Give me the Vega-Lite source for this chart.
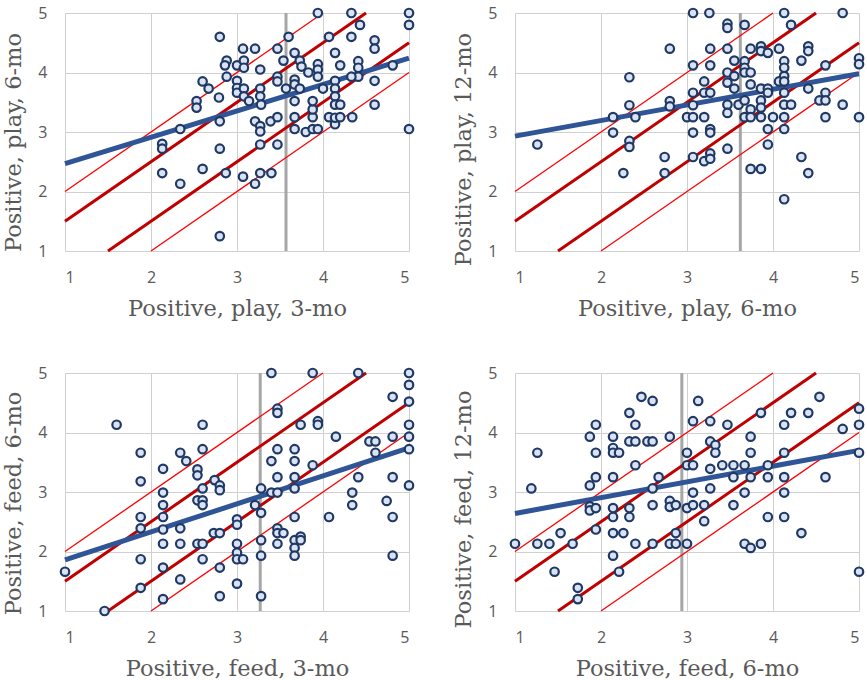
{
"$schema":"https://vega.github.io/schema/vega-lite/v6.json",
"padding":{"left":2,"top":4,"right":0,"bottom":0},
"background":"white",
"datasets":{
"pts":[
{"p":"tl","x":3.94,"y":5},{"p":"tl","x":4.33,"y":5},{"p":"tl","x":5,"y":5},{"p":"tl","x":5,"y":4.8},{"p":"tl","x":4.43,"y":4.8},{"p":"tl","x":2.8,"y":4.6},{"p":"tl","x":3.6,"y":4.6},{"p":"tl","x":4.07,"y":4.6},{"p":"tl","x":4.33,"y":4.6},{"p":"tl","x":4.6,"y":4.54},{"p":"tl","x":4.6,"y":4.4},{"p":"tl","x":3.07,"y":4.4},{"p":"tl","x":3.21,"y":4.4},{"p":"tl","x":3.47,"y":4.4},{"p":"tl","x":3.67,"y":4.33},{"p":"tl","x":4.14,"y":4.33},{"p":"tl","x":2.88,"y":4.2},{"p":"tl","x":2.86,"y":4.12},{"p":"tl","x":3.0,"y":4.12},{"p":"tl","x":3.08,"y":4.2},{"p":"tl","x":3.08,"y":4.08},{"p":"tl","x":3.27,"y":4.05},{"p":"tl","x":3.54,"y":4.2},{"p":"tl","x":3.73,"y":4.2},{"p":"tl","x":3.75,"y":4.1},{"p":"tl","x":3.83,"y":4.0},{"p":"tl","x":3.94,"y":4.14},{"p":"tl","x":3.94,"y":4.05},{"p":"tl","x":3.94,"y":3.93},{"p":"tl","x":4.2,"y":4.12},{"p":"tl","x":4.41,"y":4.19},{"p":"tl","x":4.41,"y":4.08},{"p":"tl","x":4.41,"y":3.93},{"p":"tl","x":4.33,"y":3.93},{"p":"tl","x":4.81,"y":4.12},{"p":"tl","x":2.88,"y":3.93},{"p":"tl","x":2.6,"y":3.85},{"p":"tl","x":2.67,"y":3.73},{"p":"tl","x":3.0,"y":3.86},{"p":"tl","x":3.0,"y":3.74},{"p":"tl","x":3.0,"y":3.66},{"p":"tl","x":3.08,"y":3.73},{"p":"tl","x":3.08,"y":3.6},{"p":"tl","x":3.14,"y":3.52},{"p":"tl","x":3.27,"y":3.73},{"p":"tl","x":3.27,"y":3.6},{"p":"tl","x":3.28,"y":3.46},{"p":"tl","x":3.47,"y":3.93},{"p":"tl","x":3.47,"y":3.85},{"p":"tl","x":3.57,"y":3.73},{"p":"tl","x":3.67,"y":3.88},{"p":"tl","x":3.67,"y":3.8},{"p":"tl","x":3.73,"y":3.73},{"p":"tl","x":3.67,"y":3.52},{"p":"tl","x":4.0,"y":3.73},{"p":"tl","x":4.14,"y":3.86},{"p":"tl","x":4.14,"y":3.73},{"p":"tl","x":4.14,"y":3.6},{"p":"tl","x":4.14,"y":3.46},{"p":"tl","x":4.2,"y":3.46},{"p":"tl","x":4.6,"y":3.86},{"p":"tl","x":4.6,"y":3.46},{"p":"tl","x":2.79,"y":3.58},{"p":"tl","x":2.53,"y":3.52},{"p":"tl","x":2.53,"y":3.41},{"p":"tl","x":2.8,"y":3.18},{"p":"tl","x":3.21,"y":3.18},{"p":"tl","x":3.27,"y":3.1},{"p":"tl","x":3.27,"y":3.01},{"p":"tl","x":3.39,"y":3.18},{"p":"tl","x":3.47,"y":3.25},{"p":"tl","x":3.67,"y":3.25},{"p":"tl","x":3.67,"y":3.05},{"p":"tl","x":3.8,"y":3.0},{"p":"tl","x":3.88,"y":3.05},{"p":"tl","x":3.94,"y":3.05},{"p":"tl","x":3.88,"y":3.25},{"p":"tl","x":3.88,"y":3.38},{"p":"tl","x":3.88,"y":3.52},{"p":"tl","x":4.07,"y":3.25},{"p":"tl","x":4.14,"y":3.13},{"p":"tl","x":4.14,"y":3.24},{"p":"tl","x":4.2,"y":3.25},{"p":"tl","x":4.34,"y":3.25},{"p":"tl","x":5,"y":3.05},{"p":"tl","x":2.34,"y":3.05},{"p":"tl","x":2.13,"y":2.8},{"p":"tl","x":2.13,"y":2.72},{"p":"tl","x":2.8,"y":2.72},{"p":"tl","x":3.27,"y":2.79},{"p":"tl","x":3.47,"y":2.79},{"p":"tl","x":2.13,"y":2.31},{"p":"tl","x":2.34,"y":2.13},{"p":"tl","x":2.6,"y":2.38},{"p":"tl","x":2.87,"y":2.31},{"p":"tl","x":3.07,"y":2.25},{"p":"tl","x":3.21,"y":2.13},{"p":"tl","x":3.27,"y":2.31},{"p":"tl","x":3.4,"y":2.31},{"p":"tl","x":2.8,"y":1.25},
{"p":"tr","x":1.26,"y":2.79},{"p":"tr","x":2.14,"y":3.25},{"p":"tr","x":2.14,"y":2.99},{"p":"tr","x":2.33,"y":3.92},{"p":"tr","x":2.33,"y":3.45},{"p":"tr","x":2.33,"y":2.85},{"p":"tr","x":2.33,"y":2.75},{"p":"tr","x":2.26,"y":2.31},{"p":"tr","x":2.4,"y":3.25},{"p":"tr","x":2.8,"y":4.4},{"p":"tr","x":2.8,"y":3.52},{"p":"tr","x":2.8,"y":3.43},{"p":"tr","x":2.74,"y":2.58},{"p":"tr","x":2.74,"y":2.31},{"p":"tr","x":3.0,"y":3.25},{"p":"tr","x":3.07,"y":5},{"p":"tr","x":3.07,"y":4.12},{"p":"tr","x":3.07,"y":3.66},{"p":"tr","x":3.07,"y":3.45},{"p":"tr","x":3.07,"y":3.25},{"p":"tr","x":3.07,"y":2.99},{"p":"tr","x":3.07,"y":2.58},{"p":"tr","x":3.26,"y":5},{"p":"tr","x":3.2,"y":3.85},{"p":"tr","x":3.2,"y":3.66},{"p":"tr","x":3.2,"y":3.25},{"p":"tr","x":3.2,"y":2.51},{"p":"tr","x":3.27,"y":4.4},{"p":"tr","x":3.27,"y":4.12},{"p":"tr","x":3.27,"y":3.66},{"p":"tr","x":3.27,"y":3.05},{"p":"tr","x":3.27,"y":2.99},{"p":"tr","x":3.27,"y":2.64},{"p":"tr","x":3.27,"y":2.55},{"p":"tr","x":3.47,"y":4.82},{"p":"tr","x":3.47,"y":4.75},{"p":"tr","x":3.47,"y":4.4},{"p":"tr","x":3.47,"y":4.0},{"p":"tr","x":3.47,"y":3.83},{"p":"tr","x":3.47,"y":3.46},{"p":"tr","x":3.47,"y":3.32},{"p":"tr","x":3.47,"y":2.72},{"p":"tr","x":3.55,"y":4.2},{"p":"tr","x":3.55,"y":3.94},{"p":"tr","x":3.55,"y":3.73},{"p":"tr","x":3.6,"y":3.46},{"p":"tr","x":3.67,"y":4.8},{"p":"tr","x":3.67,"y":4.19},{"p":"tr","x":3.67,"y":4.08},{"p":"tr","x":3.67,"y":4.0},{"p":"tr","x":3.67,"y":3.53},{"p":"tr","x":3.67,"y":3.25},{"p":"tr","x":3.74,"y":4.4},{"p":"tr","x":3.74,"y":4.0},{"p":"tr","x":3.74,"y":3.8},{"p":"tr","x":3.74,"y":3.38},{"p":"tr","x":3.74,"y":3.25},{"p":"tr","x":3.74,"y":2.38},{"p":"tr","x":3.86,"y":4.44},{"p":"tr","x":3.86,"y":4.36},{"p":"tr","x":3.86,"y":3.73},{"p":"tr","x":3.86,"y":3.53},{"p":"tr","x":3.86,"y":3.41},{"p":"tr","x":3.86,"y":3.25},{"p":"tr","x":3.86,"y":2.38},{"p":"tr","x":3.94,"y":4.33},{"p":"tr","x":3.94,"y":3.73},{"p":"tr","x":3.94,"y":3.66},{"p":"tr","x":3.94,"y":3.05},{"p":"tr","x":3.94,"y":2.79},{"p":"tr","x":4.0,"y":3.25},{"p":"tr","x":4.07,"y":4.4},{"p":"tr","x":4.07,"y":3.85},{"p":"tr","x":4.13,"y":5},{"p":"tr","x":4.13,"y":4.19},{"p":"tr","x":4.13,"y":4.08},{"p":"tr","x":4.13,"y":3.94},{"p":"tr","x":4.13,"y":3.85},{"p":"tr","x":4.13,"y":3.66},{"p":"tr","x":4.13,"y":3.46},{"p":"tr","x":4.13,"y":3.25},{"p":"tr","x":4.13,"y":3.05},{"p":"tr","x":4.13,"y":1.87},{"p":"tr","x":4.21,"y":4.8},{"p":"tr","x":4.21,"y":3.46},{"p":"tr","x":4.33,"y":4.2},{"p":"tr","x":4.33,"y":2.58},{"p":"tr","x":4.41,"y":4.44},{"p":"tr","x":4.41,"y":4.36},{"p":"tr","x":4.41,"y":3.73},{"p":"tr","x":4.41,"y":2.31},{"p":"tr","x":4.54,"y":3.53},{"p":"tr","x":4.61,"y":4.12},{"p":"tr","x":4.61,"y":3.66},{"p":"tr","x":4.61,"y":3.53},{"p":"tr","x":4.61,"y":3.25},{"p":"tr","x":4.81,"y":5},{"p":"tr","x":4.81,"y":3.46},{"p":"tr","x":5,"y":4.24},{"p":"tr","x":5,"y":4.14},{"p":"tr","x":5,"y":3.25},
{"p":"bl","x":1,"y":1.66},{"p":"bl","x":1.46,"y":1.0},{"p":"bl","x":1.6,"y":4.13},{"p":"bl","x":1.88,"y":3.66},{"p":"bl","x":1.88,"y":3.18},{"p":"bl","x":1.88,"y":2.58},{"p":"bl","x":1.88,"y":2.39},{"p":"bl","x":1.88,"y":1.87},{"p":"bl","x":1.88,"y":1.39},{"p":"bl","x":2.14,"y":3.39},{"p":"bl","x":2.14,"y":2.99},{"p":"bl","x":2.14,"y":2.78},{"p":"bl","x":2.14,"y":2.58},{"p":"bl","x":2.14,"y":2.37},{"p":"bl","x":2.14,"y":2.13},{"p":"bl","x":2.14,"y":1.73},{"p":"bl","x":2.14,"y":1.2},{"p":"bl","x":2.34,"y":3.66},{"p":"bl","x":2.41,"y":3.52},{"p":"bl","x":2.34,"y":2.39},{"p":"bl","x":2.34,"y":2.13},{"p":"bl","x":2.34,"y":1.53},{"p":"bl","x":2.54,"y":3.38},{"p":"bl","x":2.54,"y":3.28},{"p":"bl","x":2.54,"y":2.86},{"p":"bl","x":2.54,"y":2.13},{"p":"bl","x":2.6,"y":4.13},{"p":"bl","x":2.6,"y":3.72},{"p":"bl","x":2.6,"y":3.06},{"p":"bl","x":2.6,"y":2.86},{"p":"bl","x":2.6,"y":2.78},{"p":"bl","x":2.6,"y":2.13},{"p":"bl","x":2.6,"y":1.87},{"p":"bl","x":2.74,"y":3.2},{"p":"bl","x":2.8,"y":3.11},{"p":"bl","x":2.8,"y":3.03},{"p":"bl","x":2.73,"y":2.31},{"p":"bl","x":2.8,"y":2.31},{"p":"bl","x":2.8,"y":1.73},{"p":"bl","x":2.8,"y":1.25},{"p":"bl","x":3.0,"y":2.54},{"p":"bl","x":3.0,"y":2.45},{"p":"bl","x":3.0,"y":2.13},{"p":"bl","x":3.0,"y":1.98},{"p":"bl","x":3.0,"y":1.87},{"p":"bl","x":3.07,"y":1.87},{"p":"bl","x":3.0,"y":1.46},{"p":"bl","x":3.21,"y":2.78},{"p":"bl","x":3.28,"y":3.06},{"p":"bl","x":3.28,"y":2.65},{"p":"bl","x":3.28,"y":2.19},{"p":"bl","x":3.28,"y":1.93},{"p":"bl","x":3.28,"y":1.25},{"p":"bl","x":3.4,"y":5},{"p":"bl","x":3.4,"y":3.52},{"p":"bl","x":3.4,"y":2.99},{"p":"bl","x":3.47,"y":4.4},{"p":"bl","x":3.47,"y":4.33},{"p":"bl","x":3.47,"y":3.72},{"p":"bl","x":3.47,"y":3.25},{"p":"bl","x":3.47,"y":2.99},{"p":"bl","x":3.47,"y":2.39},{"p":"bl","x":3.47,"y":2.31},{"p":"bl","x":3.47,"y":2.13},{"p":"bl","x":3.54,"y":2.31},{"p":"bl","x":3.67,"y":3.72},{"p":"bl","x":3.67,"y":3.52},{"p":"bl","x":3.67,"y":3.25},{"p":"bl","x":3.67,"y":3.06},{"p":"bl","x":3.67,"y":2.58},{"p":"bl","x":3.67,"y":2.19},{"p":"bl","x":3.67,"y":2.06},{"p":"bl","x":3.67,"y":1.93},{"p":"bl","x":3.74,"y":4.13},{"p":"bl","x":3.74,"y":2.25},{"p":"bl","x":3.74,"y":2.19},{"p":"bl","x":3.88,"y":5},{"p":"bl","x":3.88,"y":3.45},{"p":"bl","x":3.94,"y":4.19},{"p":"bl","x":3.94,"y":4.13},{"p":"bl","x":4.07,"y":2.58},{"p":"bl","x":4.15,"y":3.93},{"p":"bl","x":4.34,"y":2.99},{"p":"bl","x":4.34,"y":2.78},{"p":"bl","x":4.41,"y":5},{"p":"bl","x":4.41,"y":3.25},{"p":"bl","x":4.54,"y":3.85},{"p":"bl","x":4.61,"y":3.85},{"p":"bl","x":4.61,"y":3.66},{"p":"bl","x":4.74,"y":2.85},{"p":"bl","x":4.81,"y":4.6},{"p":"bl","x":4.81,"y":3.93},{"p":"bl","x":4.81,"y":3.25},{"p":"bl","x":4.81,"y":2.58},{"p":"bl","x":4.81,"y":1.93},{"p":"bl","x":5,"y":5},{"p":"bl","x":5,"y":4.8},{"p":"bl","x":5,"y":4.52},{"p":"bl","x":5,"y":4.13},{"p":"bl","x":5,"y":3.93},{"p":"bl","x":5,"y":3.72},{"p":"bl","x":5,"y":3.11},
{"p":"br","x":1,"y":2.13},{"p":"br","x":1.19,"y":3.06},{"p":"br","x":1.26,"y":3.66},{"p":"br","x":1.26,"y":2.13},{"p":"br","x":1.4,"y":2.13},{"p":"br","x":1.46,"y":1.66},{"p":"br","x":1.53,"y":2.31},{"p":"br","x":1.67,"y":2.13},{"p":"br","x":1.73,"y":1.39},{"p":"br","x":1.73,"y":1.2},{"p":"br","x":1.87,"y":3.93},{"p":"br","x":1.87,"y":3.11},{"p":"br","x":1.87,"y":2.76},{"p":"br","x":1.87,"y":2.69},{"p":"br","x":1.94,"y":4.13},{"p":"br","x":1.94,"y":3.66},{"p":"br","x":1.94,"y":3.25},{"p":"br","x":1.94,"y":2.73},{"p":"br","x":1.94,"y":2.37},{"p":"br","x":2.14,"y":3.93},{"p":"br","x":2.14,"y":3.74},{"p":"br","x":2.14,"y":3.66},{"p":"br","x":2.21,"y":3.66},{"p":"br","x":2.14,"y":3.25},{"p":"br","x":2.14,"y":2.73},{"p":"br","x":2.14,"y":2.58},{"p":"br","x":2.14,"y":2.31},{"p":"br","x":2.14,"y":1.93},{"p":"br","x":2.21,"y":1.66},{"p":"br","x":2.26,"y":2.31},{"p":"br","x":2.33,"y":4.33},{"p":"br","x":2.33,"y":3.85},{"p":"br","x":2.33,"y":2.73},{"p":"br","x":2.33,"y":2.58},{"p":"br","x":2.4,"y":4.13},{"p":"br","x":2.4,"y":3.85},{"p":"br","x":2.4,"y":3.45},{"p":"br","x":2.4,"y":2.13},{"p":"br","x":2.47,"y":4.6},{"p":"br","x":2.54,"y":3.85},{"p":"br","x":2.6,"y":4.53},{"p":"br","x":2.6,"y":3.85},{"p":"br","x":2.6,"y":3.06},{"p":"br","x":2.6,"y":2.78},{"p":"br","x":2.6,"y":2.13},{"p":"br","x":2.67,"y":3.25},{"p":"br","x":2.8,"y":3.93},{"p":"br","x":2.8,"y":2.85},{"p":"br","x":2.8,"y":2.75},{"p":"br","x":2.8,"y":2.13},{"p":"br","x":2.87,"y":2.78},{"p":"br","x":2.87,"y":2.31},{"p":"br","x":2.87,"y":2.13},{"p":"br","x":3.0,"y":3.66},{"p":"br","x":3.0,"y":3.45},{"p":"br","x":3.0,"y":2.73},{"p":"br","x":3.0,"y":2.13},{"p":"br","x":3.07,"y":4.19},{"p":"br","x":3.07,"y":3.45},{"p":"br","x":3.07,"y":2.99},{"p":"br","x":3.07,"y":2.78},{"p":"br","x":3.13,"y":4.53},{"p":"br","x":3.2,"y":2.78},{"p":"br","x":3.2,"y":2.51},{"p":"br","x":3.27,"y":4.19},{"p":"br","x":3.27,"y":3.85},{"p":"br","x":3.27,"y":3.39},{"p":"br","x":3.27,"y":3.06},{"p":"br","x":3.33,"y":3.79},{"p":"br","x":3.33,"y":3.66},{"p":"br","x":3.41,"y":3.45},{"p":"br","x":3.47,"y":4.13},{"p":"br","x":3.54,"y":3.45},{"p":"br","x":3.54,"y":3.25},{"p":"br","x":3.54,"y":2.78},{"p":"br","x":3.67,"y":3.45},{"p":"br","x":3.67,"y":2.99},{"p":"br","x":3.67,"y":2.13},{"p":"br","x":3.74,"y":3.93},{"p":"br","x":3.74,"y":3.66},{"p":"br","x":3.74,"y":3.25},{"p":"br","x":3.74,"y":2.06},{"p":"br","x":3.86,"y":4.33},{"p":"br","x":3.86,"y":2.13},{"p":"br","x":3.94,"y":3.45},{"p":"br","x":3.94,"y":3.25},{"p":"br","x":3.94,"y":2.58},{"p":"br","x":4.13,"y":4.13},{"p":"br","x":4.13,"y":3.66},{"p":"br","x":4.13,"y":3.25},{"p":"br","x":4.13,"y":2.99},{"p":"br","x":4.13,"y":2.58},{"p":"br","x":4.21,"y":4.33},{"p":"br","x":4.33,"y":2.31},{"p":"br","x":4.41,"y":4.33},{"p":"br","x":4.54,"y":4.6},{"p":"br","x":4.61,"y":3.25},{"p":"br","x":4.81,"y":4.06},{"p":"br","x":5,"y":4.4},{"p":"br","x":5,"y":4.13},{"p":"br","x":5,"y":3.66},{"p":"br","x":5,"y":1.66}
],
"fit":[
{"p":"tl","x":1,"y":2.47,"x2":5,"y2":4.24},
{"p":"tr","x":1,"y":2.93,"x2":5,"y2":3.98},
{"p":"bl","x":1,"y":1.86,"x2":5,"y2":3.74},
{"p":"br","x":1,"y":2.64,"x2":5,"y2":3.70}
],
"mean":[
{"p":"tl","x":3.57,"y":1,"x2":3.57,"y2":5},
{"p":"tr","x":3.62,"y":1,"x2":3.62,"y2":5},
{"p":"bl","x":3.27,"y":1,"x2":3.27,"y2":5},
{"p":"br","x":2.94,"y":1,"x2":2.94,"y2":5}
],
"thick":[
{"x":1,"y":1.5,"x2":4.5,"y2":5},
{"x":1.5,"y":1,"x2":5,"y2":4.5}
],
"thin":[
{"x":1,"y":2,"x2":4,"y2":5},
{"x":2,"y":1,"x2":5,"y2":4}
]
},
"vconcat":[
{"hconcat":[
{"width":344,"height":238,
"encoding":{"x":{"field":"x","type":"quantitative","scale":{"domain":[1,5],"nice":false,"zero":false},"axis":{"values":[1,2,3,4,5],"title":"Positive, play, 3-mo"}},
"y":{"field":"y","type":"quantitative","scale":{"domain":[1,5],"nice":false,"zero":false},"axis":{"values":[1,2,3,4,5],"title":"Positive, play, 6-mo","titleY":129}}},
"layer":[
{"data":{"name":"mean"},"transform":[{"filter":"datum.p==='tl'"}],"mark":{"type":"rule","color":"#a6a6a6","strokeWidth":3},"encoding":{"x2":{"field":"x2"},"y2":{"field":"y2"}}},
{"data":{"name":"thin"},"mark":{"type":"rule","color":"#ff0000","strokeWidth":1.3},"encoding":{"x2":{"field":"x2"},"y2":{"field":"y2"}}},
{"data":{"name":"thick"},"mark":{"type":"rule","color":"#c00000","strokeWidth":3},"encoding":{"x2":{"field":"x2"},"y2":{"field":"y2"}}},
{"data":{"name":"fit"},"transform":[{"filter":"datum.p==='tl'"}],"mark":{"type":"rule","color":"#2f5597","strokeWidth":5},"encoding":{"x2":{"field":"x2"},"y2":{"field":"y2"}}},
{"data":{"name":"pts"},"transform":[{"filter":"datum.p==='tl'"}],"mark":{"type":"circle","size":72,"fill":"#dae3f3","stroke":"#1f3864","strokeWidth":2.2,"opacity":1}}
]},
{"width":344,"height":238,
"encoding":{"x":{"field":"x","type":"quantitative","scale":{"domain":[1,5],"nice":false,"zero":false},"axis":{"values":[1,2,3,4,5],"title":"Positive, play, 6-mo"}},
"y":{"field":"y","type":"quantitative","scale":{"domain":[1,5],"nice":false,"zero":false},"axis":{"values":[1,2,3,4,5],"title":"Positive, play, 12-mo","titleY":136}}},
"layer":[
{"data":{"name":"mean"},"transform":[{"filter":"datum.p==='tr'"}],"mark":{"type":"rule","color":"#a6a6a6","strokeWidth":3},"encoding":{"x2":{"field":"x2"},"y2":{"field":"y2"}}},
{"data":{"name":"thin"},"mark":{"type":"rule","color":"#ff0000","strokeWidth":1.3},"encoding":{"x2":{"field":"x2"},"y2":{"field":"y2"}}},
{"data":{"name":"thick"},"mark":{"type":"rule","color":"#c00000","strokeWidth":3},"encoding":{"x2":{"field":"x2"},"y2":{"field":"y2"}}},
{"data":{"name":"fit"},"transform":[{"filter":"datum.p==='tr'"}],"mark":{"type":"rule","color":"#2f5597","strokeWidth":5},"encoding":{"x2":{"field":"x2"},"y2":{"field":"y2"}}},
{"data":{"name":"pts"},"transform":[{"filter":"datum.p==='tr'"}],"mark":{"type":"circle","size":72,"fill":"#dae3f3","stroke":"#1f3864","strokeWidth":2.2,"opacity":1}}
]}
],"spacing":34},
{"hconcat":[
{"width":344,"height":238,
"encoding":{"x":{"field":"x","type":"quantitative","scale":{"domain":[1,5],"nice":false,"zero":false},"axis":{"values":[1,2,3,4,5],"title":"Positive, feed, 3-mo"}},
"y":{"field":"y","type":"quantitative","scale":{"domain":[1,5],"nice":false,"zero":false},"axis":{"values":[1,2,3,4,5],"title":"Positive, feed, 6-mo","titleY":130}}},
"layer":[
{"data":{"name":"mean"},"transform":[{"filter":"datum.p==='bl'"}],"mark":{"type":"rule","color":"#a6a6a6","strokeWidth":3},"encoding":{"x2":{"field":"x2"},"y2":{"field":"y2"}}},
{"data":{"name":"thin"},"mark":{"type":"rule","color":"#ff0000","strokeWidth":1.3},"encoding":{"x2":{"field":"x2"},"y2":{"field":"y2"}}},
{"data":{"name":"thick"},"mark":{"type":"rule","color":"#c00000","strokeWidth":3},"encoding":{"x2":{"field":"x2"},"y2":{"field":"y2"}}},
{"data":{"name":"fit"},"transform":[{"filter":"datum.p==='bl'"}],"mark":{"type":"rule","color":"#2f5597","strokeWidth":5},"encoding":{"x2":{"field":"x2"},"y2":{"field":"y2"}}},
{"data":{"name":"pts"},"transform":[{"filter":"datum.p==='bl'"}],"mark":{"type":"circle","size":72,"fill":"#dae3f3","stroke":"#1f3864","strokeWidth":2.2,"opacity":1}}
]},
{"width":344,"height":238,
"encoding":{"x":{"field":"x","type":"quantitative","scale":{"domain":[1,5],"nice":false,"zero":false},"axis":{"values":[1,2,3,4,5],"title":"Positive, feed, 6-mo"}},
"y":{"field":"y","type":"quantitative","scale":{"domain":[1,5],"nice":false,"zero":false},"axis":{"values":[1,2,3,4,5],"title":"Positive, feed, 12-mo","titleY":136}}},
"layer":[
{"data":{"name":"mean"},"transform":[{"filter":"datum.p==='br'"}],"mark":{"type":"rule","color":"#a6a6a6","strokeWidth":3},"encoding":{"x2":{"field":"x2"},"y2":{"field":"y2"}}},
{"data":{"name":"thin"},"mark":{"type":"rule","color":"#ff0000","strokeWidth":1.3},"encoding":{"x2":{"field":"x2"},"y2":{"field":"y2"}}},
{"data":{"name":"thick"},"mark":{"type":"rule","color":"#c00000","strokeWidth":3},"encoding":{"x2":{"field":"x2"},"y2":{"field":"y2"}}},
{"data":{"name":"fit"},"transform":[{"filter":"datum.p==='br'"}],"mark":{"type":"rule","color":"#2f5597","strokeWidth":5},"encoding":{"x2":{"field":"x2"},"y2":{"field":"y2"}}},
{"data":{"name":"pts"},"transform":[{"filter":"datum.p==='br'"}],"mark":{"type":"circle","size":72,"fill":"#dae3f3","stroke":"#1f3864","strokeWidth":2.2,"opacity":1}}
]}
],"spacing":34}
],
"spacing":44,
"config":{
"view":{"stroke":null},
"axis":{"grid":true,"gridColor":"#d0d0d0","gridWidth":1,"domain":false,"ticks":false,"tickSize":0,"labelFont":"Open Sans","labelFontSize":16,"labelColor":"#595959","labelPadding":18,"titleFont":"DejaVu Serif","titleFontSize":22.5,"titleFontWeight":"normal","titleColor":"#595959"},
"axisX":{"titlePadding":12},
"axisY":{"titlePadding":12}
}
}
